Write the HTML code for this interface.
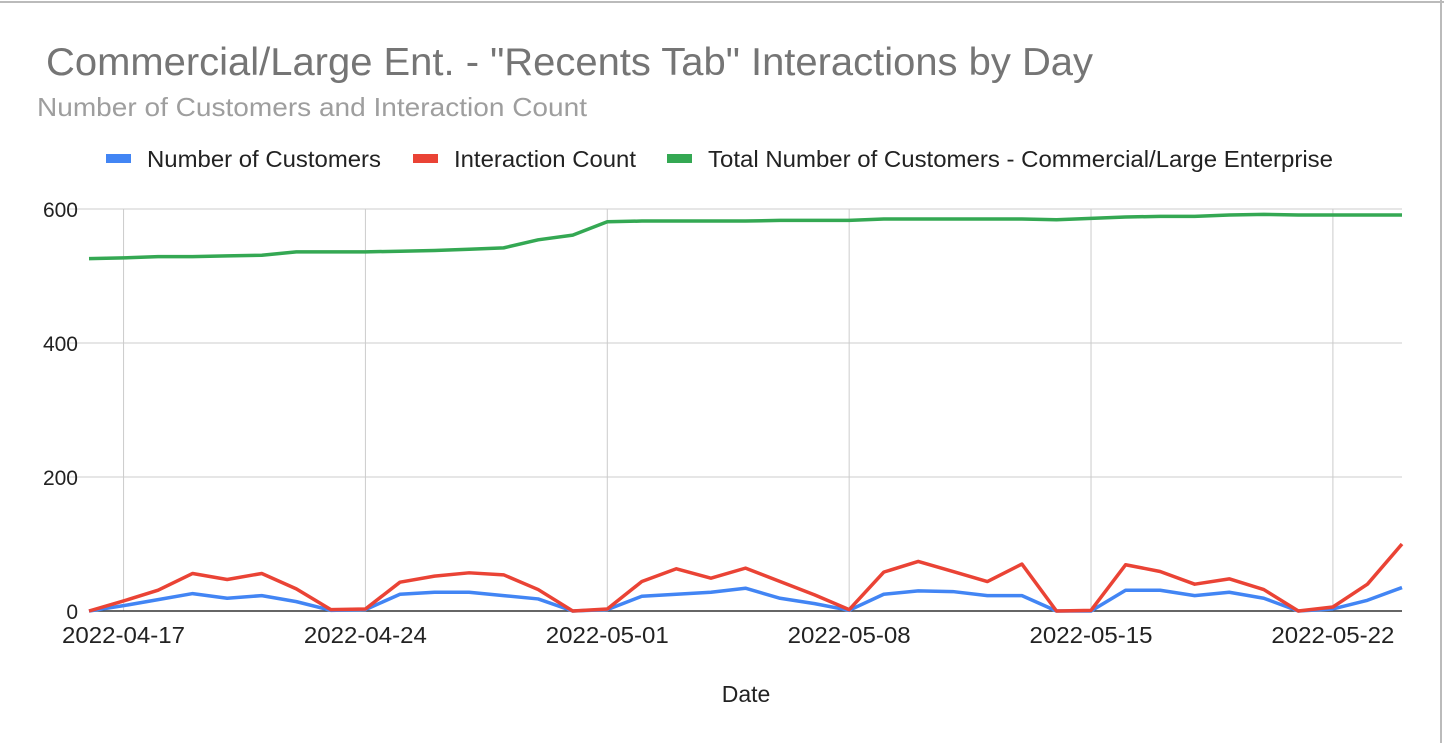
<!DOCTYPE html>
<html><head><meta charset="utf-8"><style>
body{margin:0;background:#fff;font-family:"Liberation Sans",Arial,sans-serif;}
#wrap{position:relative;width:1444px;height:743px;overflow:hidden;}
</style></head><body>
<div id="wrap">
<svg id="chart" width="1444" height="743">
<line x1="0" y1="2" x2="1444" y2="2" stroke="#bbb" stroke-width="2"/>
<line x1="1441" y1="0" x2="1441" y2="743" stroke="#bbb" stroke-width="2"/>
<text x="46" y="75" font-size="39" textLength="1047" lengthAdjust="spacingAndGlyphs" fill="#757575">Commercial/Large Ent. - "Recents Tab" Interactions by Day</text>
<text x="37" y="116" font-size="26" textLength="550" lengthAdjust="spacingAndGlyphs" fill="#9e9e9e">Number of Customers and Interaction Count</text>
<g>
<g><rect x="106" y="154" width="25" height="9" fill="#4285f4"/><text x="147" y="167" font-size="23" textLength="234" lengthAdjust="spacingAndGlyphs" fill="#222">Number of Customers</text></g>
<g><rect x="413" y="154" width="25" height="9" fill="#ea4335"/><text x="454" y="167" font-size="23" textLength="182" lengthAdjust="spacingAndGlyphs" fill="#222">Interaction Count</text></g>
<g><rect x="667" y="154" width="25" height="9" fill="#34a853"/><text x="708" y="167" font-size="23" textLength="625" lengthAdjust="spacingAndGlyphs" fill="#222">Total Number of Customers - Commercial/Large Enterprise</text></g>
</g>
<g id="grid"></g>
<g id="series"></g>
<text x="746" y="702" font-size="23" text-anchor="middle" fill="#222">Date</text>
</svg>
</div>
<script>
const startDate = "2022-04-16";
const customers = [0,8,17,26,19,23,14,1,2,25,28,28,23,18,0,2,22,25,28,34,19,11,1,25,30,29,23,23,0,0,31,31,23,28,19,0,3,16,35];
const interactions = [0,15,31,56,47,56,33,2,3,43,52,57,54,32,0,3,44,63,49,64,44,24,2,58,74,59,44,70,0,1,69,59,40,48,32,0,6,40,100];
const totalCustomers = [526,527,529,529,530,531,536,536,536,537,538,540,542,554,561,581,582,582,582,582,583,583,583,585,585,585,585,585,584,586,588,589,589,591,592,591,591,591,591];
const yTicks = [0,200,400,600];
const xTickLabels = ["2022-04-17","2022-04-24","2022-05-01","2022-05-08","2022-05-15","2022-05-22"];
const xTickIndex = [1,8,15,22,29,36];

const NS="http://www.w3.org/2000/svg";
const L=89,R=1402,T=209,B=611,YMAX=600;
const n=customers.length;
const xs=i=>L+(R-L)*i/(n-1);
const ys=v=>B-(B-T)*v/YMAX;
const grid=document.getElementById('grid'), series=document.getElementById('series');
function mk(tag,attrs,parent){const e=document.createElementNS(NS,tag);for(const k in attrs)e.setAttribute(k,attrs[k]);parent.appendChild(e);return e;}
yTicks.forEach(v=>{
  if(v>0){const l=mk('line',{x1:67,x2:R,y1:ys(v),y2:ys(v),stroke:'#ccc','stroke-width':1},grid);
  
  }
  const t=mk('text',{x:78,y:ys(v)+8,'font-size':21,'text-anchor':'end',fill:'#222'},grid);
  t.textContent=v;
  
  
});
xTickIndex.forEach((idx,k)=>{
  const l=mk('line',{x1:xs(idx),x2:xs(idx),y1:T,y2:B,stroke:'#ccc','stroke-width':1},grid);
  
  
  const t=mk('text',{x:xs(idx),y:643,'font-size':23,'text-anchor':'middle',textLength:123,lengthAdjust:'spacingAndGlyphs',fill:'#222'},grid);
  t.textContent=xTickLabels[k];
  
  
});
const base=mk('line',{x1:L,x2:R,y1:B,y2:B,stroke:'#333','stroke-width':1.5},grid);


function line(arr,color,name){
  const p=mk('polyline',{points:arr.map((v,i)=>xs(i)+','+ys(v)).join(' '),fill:'none',stroke:color,'stroke-width':3.5,'stroke-linejoin':'round'},series);
  
  
}
line(totalCustomers,'#34a853','total-customers-line');
line(customers,'#4285f4','customers-line');
line(interactions,'#ea4335','interactions-line');
</script>
</body></html>
